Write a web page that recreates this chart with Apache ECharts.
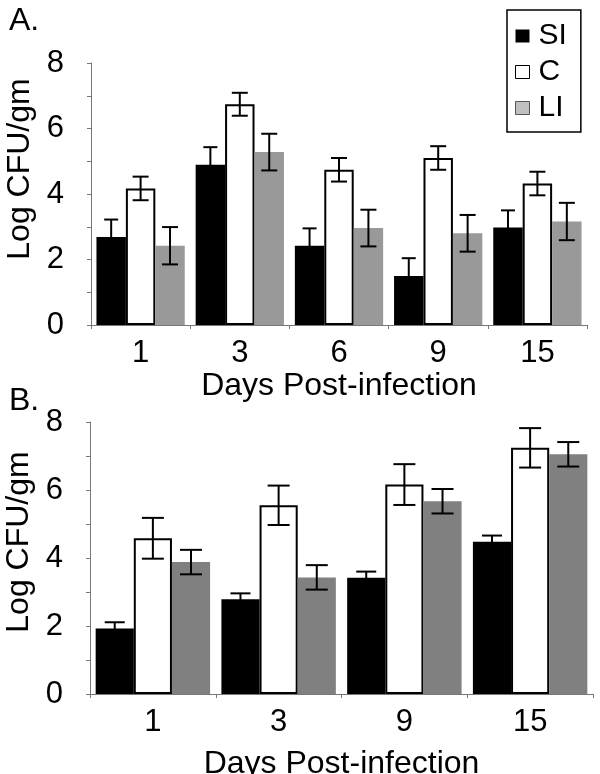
<!DOCTYPE html>
<html>
<head>
<meta charset="utf-8">
<script src="https://cdn.jsdelivr.net/npm/echarts@6/dist/echarts.min.js"></script>
<style>html,body{margin:0;padding:0;background:#fff}#c{width:600px;height:774px}</style>
</head>
<body>
<div id="c"></div>
<script>
// Panel A
const daysA = ['1', '3', '6', '9', '15'];
const siA = [2.69, 4.89, 2.42, 1.50, 2.98];
const siErrA = [0.53, 0.54, 0.53, 0.54, 0.52];
const cA = [4.17, 6.74, 4.74, 5.10, 4.32];
const cErrA = [0.36, 0.35, 0.36, 0.36, 0.36];
const liA = [2.42, 5.28, 2.96, 2.80, 3.16];
const liErrA = [0.57, 0.56, 0.56, 0.56, 0.57];
// Panel B
const daysB = ['1', '3', '9', '15'];
const siB = [1.93, 2.79, 3.42, 4.48];
const siErrB = [0.18, 0.17, 0.18, 0.18];
const cB = [4.58, 5.55, 6.16, 7.24];
const cErrB = [0.60, 0.58, 0.60, 0.58];
const liB = [3.88, 3.43, 5.67, 7.05];
const liErrB = [0.36, 0.36, 0.36, 0.36];
const yTicks = ['0', '2', '4', '6', '8'];

const FONT = 'Liberation Sans, Arial, sans-serif';
const FS = 32;
const FSN = 31;
const gapA = 0.11, gapB = 0.09;

function errSeries(means, errs, k, axisIdx, gap, capW) {
  return {
    type: 'custom', xAxisIndex: axisIdx, yAxisIndex: axisIdx, z: 10, silent: true,
    data: means.map((m, i) => [i, m, errs[i]]),
    renderItem: function (params, api) {
      const i = api.value(0), m = api.value(1), e = api.value(2);
      const band = api.size([1, 0])[0];
      const bw = band * (1 - gap) / 3;
      const cx = api.coord([i, m])[0] + (k - 1) * bw;
      const yt = api.coord([i, m + e])[1];
      const yb = api.coord([i, m - e])[1];
      const st = { stroke: '#000', lineWidth: 2 };
      return { type: 'group', children: [
        { type: 'line', shape: { x1: cx, y1: yt, x2: cx, y2: yb }, style: st },
        { type: 'line', shape: { x1: cx - capW / 2, y1: yt, x2: cx + capW / 2, y2: yt }, style: st },
        { type: 'line', shape: { x1: cx - capW / 2, y1: yb, x2: cx + capW / 2, y2: yb }, style: st }
      ]};
    }
  };
}

function xAx(idx, cats, nameGap) {
  return {
    type: 'category', gridIndex: idx, data: cats,
    name: 'Days Post-infection', nameLocation: 'middle', nameGap: nameGap,
    nameTextStyle: { fontFamily: FONT, fontSize: FS, color: '#000' },
    axisLine: { lineStyle: { color: '#777', width: 1 } },
    axisTick: { show: true, length: 4, lineStyle: { color: '#777' } },
    axisLabel: { fontFamily: FONT, fontSize: FSN, color: '#000', margin: 13 }
  };
}
function yAx(idx, pad) {
  return {
    type: 'value', gridIndex: idx, min: 0, max: 8, interval: 1,
    name: 'Log CFU/gm', nameLocation: 'middle', nameGap: 42,
    nameTextStyle: { fontFamily: FONT, fontSize: FS, color: '#000', padding: pad },
    axisLine: { show: true, lineStyle: { color: '#777', width: 1 } },
    axisTick: { show: true, length: 4, lineStyle: { color: '#777' } },
    splitLine: { show: false },
    axisLabel: {
      fontFamily: FONT, fontSize: FSN, color: '#000', margin: 27,
      formatter: v => (yTicks.indexOf(String(v)) >= 0 ? String(v) : '')
    }
  };
}

const chart = echarts.init(document.getElementById('c'), null, { renderer: 'canvas' });
chart.setOption({
  animation: false,
  backgroundColor: '#fff',
  title: [
    { text: 'A.', left: 4, top: 0, textStyle: { fontFamily: FONT, fontSize: FS, fontWeight: 'normal', color: '#000' } },
    { text: 'B.', left: 4, top: 380, textStyle: { fontFamily: FONT, fontSize: FS, fontWeight: 'normal', color: '#000' } }
  ],
  legend: {
    orient: 'vertical', left: 507, top: 10,
    padding: [11, 14, 9, 8], itemGap: 6, itemWidth: 14, itemHeight: 13,
    borderColor: '#000', borderWidth: 1.5,
    textStyle: { fontFamily: FONT, fontSize: 30, color: '#000', padding: [0, 0, 0, 4] },
    data: [
      { name: 'SI', icon: 'rect', itemStyle: { color: '#000', borderWidth: 0 } },
      { name: 'C', icon: 'rect', itemStyle: { color: '#fff', borderColor: '#000', borderWidth: 1 } },
      { name: 'LI', icon: 'rect', itemStyle: { color: '#c0c0c0', borderColor: '#555', borderWidth: 1 } }
    ]
  },
  grid: [
    { left: 91, right: 13, top: 63, bottom: 449, outerBoundsMode: 'none', containLabel: false },
    { left: 90, right: 7, top: 422, bottom: 80, outerBoundsMode: 'none', containLabel: false }
  ],
  xAxis: [xAx(0, daysA, 27), xAx(1, daysB, 54)],
  yAxis: [yAx(0, [0, 0, 0, 50]), yAx(1, [0, 0, 0, 32])],
  series: [
    { name: 'SI', type: 'bar', xAxisIndex: 0, yAxisIndex: 0, data: siA, barGap: 0, barCategoryGap: (gapA * 100) + '%', itemStyle: { color: '#000' } },
    { name: 'C', type: 'bar', xAxisIndex: 0, yAxisIndex: 0, data: cA, barGap: 0, barCategoryGap: (gapA * 100) + '%', itemStyle: { color: '#fff', borderColor: '#000', borderWidth: 2 } },
    { name: 'LI', type: 'bar', xAxisIndex: 0, yAxisIndex: 0, data: liA, barGap: 0, barCategoryGap: (gapA * 100) + '%', itemStyle: { color: '#999999' } },
    { name: 'SI', type: 'bar', xAxisIndex: 1, yAxisIndex: 1, data: siB, barGap: 0, barCategoryGap: (gapB * 100) + '%', itemStyle: { color: '#000' } },
    { name: 'C', type: 'bar', xAxisIndex: 1, yAxisIndex: 1, data: cB, barGap: 0, barCategoryGap: (gapB * 100) + '%', itemStyle: { color: '#fff', borderColor: '#000', borderWidth: 2 } },
    { name: 'LI', type: 'bar', xAxisIndex: 1, yAxisIndex: 1, data: liB, barGap: 0, barCategoryGap: (gapB * 100) + '%', itemStyle: { color: '#808080' } },
    errSeries(siA, siErrA, 0, 0, gapA, 14),
    errSeries(cA, cErrA, 1, 0, gapA, 16),
    errSeries(liA, liErrA, 2, 0, gapA, 16),
    errSeries(siB, siErrB, 0, 1, gapB, 20),
    errSeries(cB, cErrB, 1, 1, gapB, 22),
    errSeries(liB, liErrB, 2, 1, gapB, 22)
  ]
});
</script>
</body>
</html>
